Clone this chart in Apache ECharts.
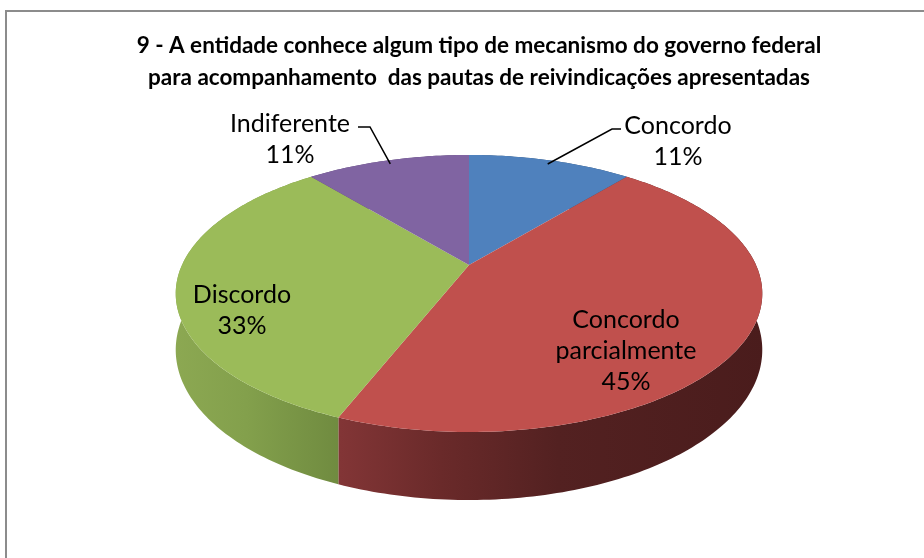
<!DOCTYPE html>
<html><head><meta charset="utf-8">
<script src="https://cdn.jsdelivr.net/npm/echarts@6/dist/echarts.min.js"></script>
<style>html,body{margin:0;padding:0;background:#fff}#c{width:924px;height:558px}</style>
</head><body><div id="c"></div>
<script>
// ---- data ----
const titleLines = ['9 - A entidade conhece algum tipo de mecanismo do governo federal',
                    'para acompanhamento  das pautas de reivindicações apresentadas'];
const categories = ['Concordo', 'Concordo parcialmente', 'Discordo', 'Indiferente'];
const labelNames = ['Concordo', 'Concordo\nparcialmente', 'Discordo', 'Indiferente'];
const values = [11, 45, 33, 11];

// ---- style / layout ----
const topColors = ['#4f81bd', '#c0504d', '#9bbb59', '#8064a2'];
const wallStops = [
  [[0, '#3d6591'], [1, '#2a4566']],
  [[0.28, '#823536'], [0.45, '#6a2a2a'], [0.65, '#532121'], [1, '#4a1c1c']],
  [[0, '#8ca852'], [0.12, '#83a04c'], [0.3, '#6d883e']],
  [[0, '#634d7e'], [1, '#4a3a5e']]
];
const P = {cx: 469, b: 265, a: 78.1, c: -0.2058, d: 287, h: 54, xl: 175, xr: 765};
const labelLayout = [
  {pos: [678, 141], leader: [[612, 129], [621, 129]]},
  {pos: [626, 351]},
  {pos: [242, 310]},
  {pos: [290, 139], leader: [[370, 127], [358, 127]]}
];
const FONT = 'Lato, "Open Sans", sans-serif';

const total = values.reduce((s, v) => s + v, 0);
const cum = [0];
values.forEach(v => cum.push(cum[cum.length - 1] + v));

function proj(theta, r, dy) {
  const X = r * Math.sin(theta), Z = -r * Math.cos(theta);
  const den = 1 + P.c * Z;
  return [P.cx + P.d * X / den, (P.a * Z + P.b + P.h * dy) / den];
}
function angles(i, v) {
  const s = cum[i] / total * 2 * Math.PI;
  const e = (cum[i] + v) / total * 2 * Math.PI;
  return [s, e];
}
function arc(s, e, dy) {
  const n = Math.max(2, Math.ceil((e - s) / (Math.PI / 180)));
  const pts = [];
  for (let k = 0; k <= n; k++) pts.push(proj(s + (e - s) * k / n, 1, dy));
  return pts;
}

const seriesData = values.map((v, i) => [i, v]);

const option = {
  animation: false,
  backgroundColor: '#ffffff',
  title: {
    text: titleLines.join('\n'),
    left: 474, top: 25, textAlign: 'center',
    textStyle: {fontFamily: FONT, fontSize: 22.5, fontWeight: 'bold', color: '#000', lineHeight: 32}
  },
  graphic: [{
    type: 'rect', shape: {x: 6, y: 11, width: 960, height: 600},
    style: {fill: null, stroke: '#8c8c8c', lineWidth: 2}, silent: true
  }],
  series: [
    {
      type: 'custom', coordinateSystem: 'none', z: 1, data: seriesData,
      renderItem: function (params, api) {
        const i = api.value(0), v = api.value(1);
        const [s, e] = angles(i, v);
        const pts = arc(s, e, 0).concat(arc(s, e, 1).reverse());
        return {
          type: 'polygon', shape: {points: pts},
          style: {
            fill: {type: 'linear', x: P.xl, y: 0, x2: P.xr, y2: 0, global: true,
              colorStops: wallStops[i].map(st => ({offset: st[0], color: st[1]}))},
            stroke: null
          }
        };
      }
    },
    {
      type: 'custom', coordinateSystem: 'none', z: 2, data: seriesData,
      renderItem: function (params, api) {
        const i = api.value(0), v = api.value(1);
        const [s, e] = angles(i, v);
        const pts = [proj(0, 0, 0)].concat(arc(s, e, 0));
        return {type: 'polygon', shape: {points: pts}, style: {fill: topColors[i], stroke: null}};
      }
    },
    {
      type: 'custom', coordinateSystem: 'none', z: 3, data: seriesData,
      renderItem: function (params, api) {
        const i = api.value(0), v = api.value(1);
        const [s, e] = angles(i, v);
        const L = labelLayout[i];
        const children = [{
          type: 'text',
          style: {
            text: labelNames[i] + '\n' + Math.round(v / total * 100) + '%',
            x: L.pos[0], y: L.pos[1], align: 'center', verticalAlign: 'middle',
            fontFamily: FONT, fontSize: 25, lineHeight: 31, fill: '#000'
          }
        }];
        if (L.leader) {
          const start = proj((s + e) / 2, 0.96, 0);
          children.push({
            type: 'polyline', shape: {points: [start].concat(L.leader)},
            style: {stroke: '#000', lineWidth: 1.5, fill: null}
          });
        }
        return {type: 'group', children: children};
      }
    }
  ]
};
const chart = echarts.init(document.getElementById('c'), null, {renderer: 'canvas'});
chart.setOption(option);
</script>
</body></html>
